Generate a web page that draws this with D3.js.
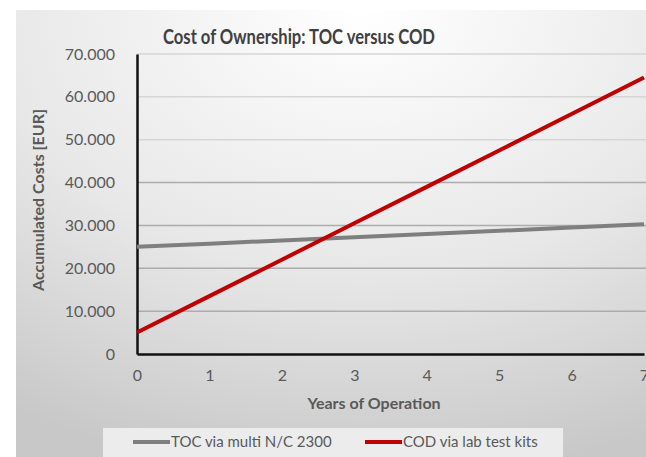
<!DOCTYPE html>
<html lang="en">
<head>
<meta charset="utf-8">
<title>Cost of Ownership</title>
<script src="https://d3js.org/d3.v7.min.js"></script>
<style>
    body {
        margin: 0;
        background: white;
        font-family: Lato, "Open Sans", sans-serif;
        overflow: hidden;
    }
    .tick text {
        fill: #5a5a5a;
        font-size: 16px;
        font-family: Lato, "Open Sans", sans-serif;
    }
</style>
</head>
<body>
<div id="chart"></div>
<script>
    // values
    var years = [0, 1, 2, 3, 4, 5, 6, 7];
    var tocValues = [25000, 25750, 26500, 27250, 28000, 28750, 29500, 30250];
    var codValues = [5000, 13500, 22000, 30500, 39000, 47500, 56000, 64500];
    var yTicks = [0, 10000, 20000, 30000, 40000, 50000, 60000, 70000];
    var seriesNames = ["TOC via multi N/C 2300", "COD via lab test kits"];

    var W = 646, H = 457;
    var margin = { top: 54, right: 2, bottom: 104, left: 137 };

    var svg = d3.select("#chart")
        .append("svg")
        .attr("width", W)
        .attr("height", H);

    var defs = svg.append("defs");
    var grad = defs.append("radialGradient")
        .attr("id", "bg")
        .attr("cx", "55%").attr("cy", "0%").attr("r", "105%");
    grad.append("stop").attr("offset", "0%").attr("stop-color", "#ffffff");
    grad.append("stop").attr("offset", "55%").attr("stop-color", "#e8e8e8");
    grad.append("stop").attr("offset", "100%").attr("stop-color", "#c8c8c8");

    svg.append("rect")
        .attr("x", 16).attr("y", 10)
        .attr("width", W - 16).attr("height", H - 10)
        .attr("fill", "url(#bg)");

    var x = d3.scaleLinear()
        .domain([0, 7])
        .range([margin.left, W - margin.right]);
    var y = d3.scaleLinear()
        .domain([0, 70000])
        .range([H - margin.bottom + 1, margin.top]);

    var de = d3.formatLocale({ decimal: ",", thousands: ".", grouping: [3], currency: ["", "€"] });
    var fmt = de.format(",");

    // gridlines
    svg.append("g")
        .selectAll("line")
        .data(yTicks.slice(1))
        .enter()
        .append("line")
        .attr("x1", x(0)).attr("x2", W)
        .attr("y1", function (d) { return y(d); })
        .attr("y2", function (d) { return y(d); })
        .attr("stroke", function (d) { return d >= 50000 ? "#d6d6d6" : "#acacac"; })
        .attr("stroke-width", 1.5);

    // y axis
    var yAxis = svg.append("g")
        .attr("transform", "translate(" + x(0) + ",0)")
        .call(d3.axisLeft(y).tickValues(yTicks).tickFormat(fmt).tickSize(0).tickPadding(22));
    yAxis.attr("font-family", null).attr("font-size", null);
    yAxis.select(".domain").attr("stroke", "#111").attr("stroke-width", 2.5);

    // x axis
    var xAxis = svg.append("g")
        .attr("transform", "translate(0," + y(0) + ")")
        .call(d3.axisBottom(x).tickValues(years).tickFormat(d3.format("d")).tickSize(0).tickPadding(16));
    xAxis.attr("font-family", null).attr("font-size", null);
    xAxis.select(".domain").attr("stroke", "#111").attr("stroke-width", 2.5);

    var line = d3.line()
        .x(function (d, i) { return x(years[i]); })
        .y(function (d) { return y(d); });

    svg.append("path")
        .datum(tocValues)
        .attr("d", line)
        .attr("fill", "none")
        .attr("stroke", "#7f7f7f")
        .attr("stroke-width", 4);

    svg.append("path")
        .datum(codValues)
        .attr("d", line)
        .attr("fill", "none")
        .attr("stroke", "#c00000")
        .attr("stroke-width", 4);

    // titles
    svg.append("text")
        .attr("x", 299).attr("y", 44)
        .attr("text-anchor", "middle")
        .attr("textLength", 272).attr("lengthAdjust", "spacingAndGlyphs")
        .style("font-size", "20px").style("font-weight", "bold")
        .style("fill", "#404040")
        .text("Cost of Ownership: TOC versus COD");

    svg.append("text")
        .attr("transform", "translate(44,200) rotate(-90)")
        .attr("text-anchor", "middle")
        .style("font-size", "16px").style("font-weight", "bold")
        .style("fill", "#595959")
        .text("Accumulated  Costs [EUR]");

    svg.append("text")
        .attr("x", 374).attr("y", 409)
        .attr("text-anchor", "middle")
        .style("font-size", "16px").style("font-weight", "bold")
        .style("fill", "#595959")
        .text("Years of Operation");

    // legend
    svg.append("rect")
        .attr("x", 103).attr("y", 428)
        .attr("width", 460).attr("height", 30)
        .attr("fill", "#ececec");

    var legendX = [133, 365];
    var legendColors = ["#7f7f7f", "#c00000"];
    var leg = svg.selectAll(".leg")
        .data(seriesNames)
        .enter()
        .append("g")
        .attr("class", "leg")
        .attr("transform", function (d, i) { return "translate(" + legendX[i] + ",442)"; });
    leg.append("line")
        .attr("x1", 0).attr("x2", 37)
        .attr("stroke", function (d, i) { return legendColors[i]; })
        .attr("stroke-width", 4);
    leg.append("text")
        .attr("x", 38).attr("dy", "0.35em")
        .style("font-size", "15px")
        .style("fill", "#595959")
        .text(function (d) { return d; });
</script>
</body>
</html>
